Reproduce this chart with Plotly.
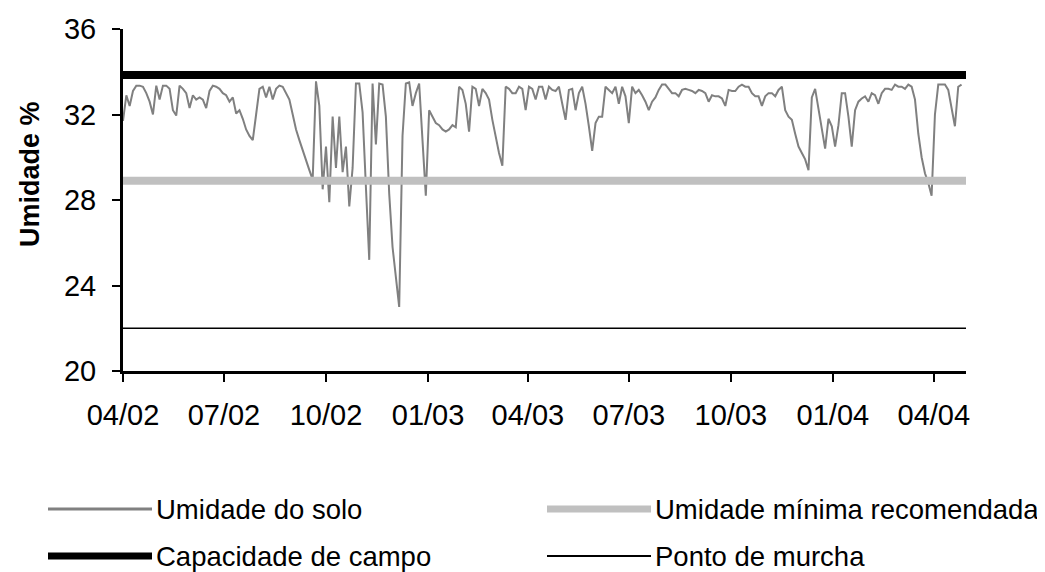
import pandas as pd
import plotly.graph_objects as go

# umidade do solo, leitura a cada 3 dias a partir de 01/04/2002
umidade_solo = [
    31.7, 32.9, 32.4, 33.1, 33.35, 33.35, 33.3, 33.0, 32.6, 32.0,
    33.35, 32.7, 33.35, 33.35, 33.2, 32.2, 31.95, 33.35, 33.2, 33.0,
    32.3, 32.9, 32.7, 32.8, 32.7, 32.3, 33.1, 33.35, 33.3, 33.2,
    33.0, 32.9, 32.6, 32.8, 32.05, 32.2, 31.8, 31.3, 31.0, 30.8,
    32.0, 33.2, 33.3, 32.8, 33.3, 32.7, 33.2, 33.35, 33.3, 33.0,
    32.7, 32.0, 31.3, 30.8, 30.3, 29.9, 29.4, 28.95, 33.55, 32.4,
    28.5, 30.5, 27.9, 31.9, 29.5, 31.9, 29.3, 30.5, 27.7, 29.5,
    33.45, 33.45, 32.1, 28.6, 25.2, 33.45, 30.6, 33.45, 33.4, 31.9,
    28.3, 25.8, 24.4, 23.0, 31.0, 33.45, 33.5, 32.4, 33.0, 33.45,
    30.8, 28.2, 32.2, 31.9, 31.6, 31.5, 31.3, 31.2, 31.3, 31.5,
    31.4, 33.3, 33.15, 32.5, 31.2, 33.3, 33.2, 32.4, 33.2, 33.0,
    32.7, 31.75, 30.9, 30.2, 29.6, 33.3, 33.2, 33.0, 33.0, 33.3,
    33.2, 32.2, 33.3, 33.2, 32.7, 33.3, 33.3, 32.7, 33.3, 33.15,
    33.1, 33.3, 32.5, 31.75, 33.15, 33.2, 32.2, 33.0, 33.3, 32.5,
    31.45, 30.3, 31.6, 31.9, 31.9, 33.3, 33.15, 33.0, 33.3, 32.5,
    33.3, 32.85, 31.6, 33.3, 33.0, 33.15, 32.9, 32.6, 32.2, 32.6,
    32.8, 33.15, 33.4, 33.4, 33.2, 33.0, 33.0, 32.85, 33.15, 33.2,
    33.15, 33.1, 33.0, 33.15, 33.1, 33.0, 32.6, 32.9, 32.85, 32.85,
    32.75, 32.4, 33.15, 33.1, 33.1, 33.3, 33.4, 33.3, 33.3, 33.0,
    32.85, 32.85, 32.4, 32.85, 33.0, 33.0, 32.85, 33.15, 33.3, 32.2,
    31.9, 31.75, 31.1, 30.5, 30.2, 29.9, 29.4, 32.8, 33.2, 32.3,
    31.5, 30.4, 31.8, 31.45, 30.5, 31.5, 33.0, 33.0, 31.9, 30.5,
    32.2, 32.6, 32.75, 32.85, 32.6, 33.0, 32.9, 32.5, 33.0, 33.2,
    33.2, 33.15, 33.4, 33.3, 33.3, 33.2, 33.4, 33.3, 32.7, 31.1,
    30.0, 29.25, 28.8, 28.2, 32.0, 33.4, 33.4, 33.4, 33.15, 32.2,
    31.45, 33.3, 33.4,
]
datas = pd.date_range("2002-04-01", periods=len(umidade_solo), freq="3D")

x_inicio, x_fim = "2002-04-01", "2004-04-30"
umidade_minima = 28.9
capacidade_campo = 33.85
ponto_murcha = 22.0

FONT = "Liberation Sans, Arial, sans-serif"

series = [
    # nome, cor, largura no grafico, largura na legenda
    ("Umidade do solo", "#808080", 2, 3),
    ("Umidade mínima recomendada", "#C0C0C0", 8, 7),
    ("Capacidade de campo", "#000000", 8, 7),
    ("Ponto de murcha", "#000000", 1.5, 2),
]

fig = go.Figure()
fig.add_trace(go.Scatter(
    x=datas, y=umidade_solo, mode="lines",
    line=dict(color=series[0][1], width=series[0][2]),
    name=series[0][0], showlegend=False,
))
for (nome, cor, larg, _), val in zip(series[1:], [umidade_minima, capacidade_campo, ponto_murcha]):
    fig.add_trace(go.Scatter(
        x=[x_inicio, x_fim], y=[val, val], mode="lines",
        line=dict(color=cor, width=larg),
        name=nome, showlegend=False,
    ))

# a pagina tem margem de 8px; area do grafico em pixels da janela
OFF = 8
PL, PR, PT, PB = 123, 966, 29, 371
px = lambda x: (x - PL) / (PR - PL)
py = lambda y: (PB - y) / (PB - PT)

# legenda manual em 2 colunas
posicoes = [(48, 509), (547, 509), (48, 556), (547, 556)]
for (nome, cor, _, larg), (x0, y0) in zip(series, posicoes):
    fig.add_shape(type="line", xref="paper", yref="paper",
                  x0=px(x0), x1=px(x0 + 104), y0=py(y0), y1=py(y0),
                  line=dict(color=cor, width=larg))
    fig.add_annotation(xref="paper", yref="paper", x=px(x0 + 106), y=py(y0),
                       text=nome, showarrow=False, xanchor="left", yanchor="middle",
                       font=dict(family=FONT, size=27.5, color="black"))

fig.add_annotation(xref="paper", yref="paper", x=px(30), y=py(174),
                   text="<b>Umidade %</b>", textangle=-90, showarrow=False,
                   xanchor="center", yanchor="middle",
                   font=dict(family=FONT, size=27, color="black"))

fig.update_layout(
    width=1045 - OFF, height=572 - OFF,
    margin=dict(l=PL - OFF, r=1045 - PR, t=PT - OFF, b=572 - PB, autoexpand=False),
    paper_bgcolor="white", plot_bgcolor="white",
    font=dict(family=FONT, color="black"),
    xaxis=dict(
        type="date", range=[x_inicio, x_fim],
        tick0="2002-04-01", dtick="M3", tickformat="%m/%y",
        showgrid=False, zeroline=False, automargin=False,
        showline=True, linecolor="black", linewidth=3,
        ticks="outside", ticklen=8, tickwidth=2, tickcolor="black",
        ticklabelstandoff=8,
        tickfont=dict(family=FONT, size=29),
    ),
    yaxis=dict(
        range=[20, 36], dtick=4, tick0=20,
        showgrid=False, zeroline=False, automargin=False,
        showline=True, linecolor="black", linewidth=3,
        ticks="outside", ticklen=8, tickwidth=2, tickcolor="black",
        ticklabelstandoff=10,
        tickfont=dict(family=FONT, size=29),
    ),
)

fig.write_html("out.html")
